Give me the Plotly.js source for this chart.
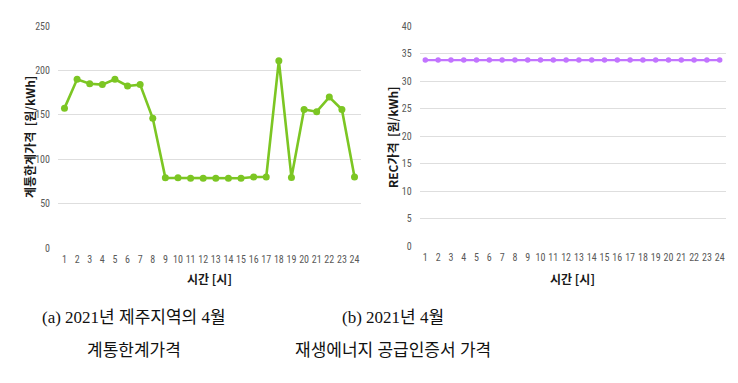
<!DOCTYPE html>
<html><head><meta charset="utf-8">
<script src="https://cdn.plot.ly/plotly-3.0.1.min.js"></script>
<style>html,body{margin:0;padding:0;background:#fff;}#chart{width:738px;height:383px;}</style>
</head><body><div id="chart"></div>
<script>
const hours = [1,2,3,4,5,6,7,8,9,10,11,12,13,14,15,16,17,18,19,20,21,22,23,24];
const smpPrice = [157.5,190,185,184,190,182.5,184,146,79,79,78.5,78.5,78.5,78.5,78.5,80,80,211,79.5,156,153.5,170,156,80];
const recPrice = [33.8,33.8,33.8,33.8,33.8,33.8,33.8,33.8,33.8,33.8,33.8,33.8,33.8,33.8,33.8,33.8,33.8,33.8,33.8,33.8,33.8,33.8,33.8,33.8];
const leftYTitle = '계통한계가격  [원/kWh]';
const rightYTitle = 'REC가격  [원/kWh]';
const xTitle = '시간 [시]';
const captionA = ['(a) 2021년 제주지역의 4월', '계통한계가격'];
const captionB = ['(b) 2021년 4월', '재생에너지 공급인증서 가격'];

const W = 738, H = 383;
const tickFont = {family: '"Liberation Sans Narrow", "Roboto Condensed", Roboto, sans-serif', size: 10, color: '#595959'};
const titleFont = {family: '"Noto Sans CJK KR", sans-serif', size: 12, color: '#1a1a1a', weight: 'bold'};
const capFont = {family: '"Liberation Serif", "Noto Sans CJK KR", serif', size: 17, color: '#111'};

const traces = [
  {x: hours, y: smpPrice, xaxis: 'x', yaxis: 'y', type: 'scatter', mode: 'lines+markers',
   line: {color: '#7cc623', width: 2.6}, marker: {color: '#7cc623', size: 7}},
  {x: hours, y: recPrice, xaxis: 'x2', yaxis: 'y2', type: 'scatter', mode: 'lines+markers',
   line: {color: '#c274ff', width: 2.2}, marker: {color: '#c274ff', size: 5.5}}
];

function xa(domain, range, anchor) {
  return {domain: domain, range: range, anchor: anchor, tickmode: 'array', tickvals: hours, ticktext: hours.map(String),
    tickangle: 0, showgrid: false, zeroline: false, showline: false, ticks: 'outside', ticklen: 2, tickcolor: 'rgba(0,0,0,0)',
    tickfont: tickFont, fixedrange: true};
}
function ya(domain, range, dtick, anchor) {
  return {domain: domain, range: range, dtick: dtick, anchor: anchor,
    showgrid: true, gridcolor: '#dedede', gridwidth: 1, zeroline: false, showline: false,
    ticks: 'outside', ticklen: 5, tickcolor: 'rgba(0,0,0,0)', tickfont: tickFont, fixedrange: true};
}
function ann(text, x, y, font, angle) {
  return {text: text, xref: 'paper', yref: 'paper', x: x / W, y: 1 - y / H, xanchor: 'center', yanchor: 'middle',
    showarrow: false, font: font, textangle: angle || 0};
}

const layout = {
  width: W, height: H, margin: {l: 0, r: 0, t: 0, b: 0}, showlegend: false,
  paper_bgcolor: '#fff', plot_bgcolor: '#fff',
  xaxis: xa([58/W, 361/W], [0.485, 24.515], 'y'),
  yaxis: ya([1-248/H, 1-26/H], [0, 250], 50, 'x'),
  xaxis2: xa([419.7/W, 725.7/W], [0.56, 24.47], 'y2'),
  yaxis2: ya([1-246/H, 1-26/H], [0, 40], 5, 'x2'),
  annotations: [
    ann(leftYTitle, 29, 137, titleFont, -90),
    ann(rightYTitle, 392, 137, titleFont, -90),
    ann(xTitle, 209, 278, titleFont),
    ann(xTitle, 572, 278, titleFont),
    ann(captionA[0], 134, 317, capFont),
    ann(captionA[1], 134, 350, capFont),
    ann(captionB[0], 393, 317, capFont),
    ann(captionB[1], 393, 350, capFont)
  ]
};
Plotly.newPlot('chart', traces, layout, {displayModeBar: false, staticPlot: true});
</script></body></html>
